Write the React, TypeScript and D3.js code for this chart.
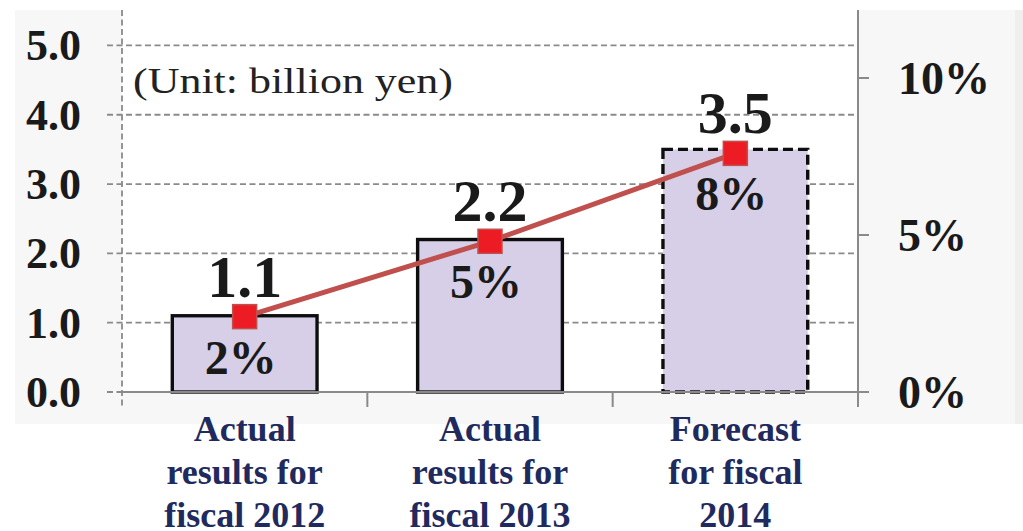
import React from "react";
import * as d3 from "d3";

// Net sales (billion yen) and ratio (%) per fiscal period
const categoryLines: string[][] = [
  ["Actual", "results for", "fiscal 2012"],
  ["Actual", "results for", "fiscal 2013"],
  ["Forecast", "for fiscal", "2014"],
];
const categoryKeys = ["fy2012", "fy2013", "fy2014"];
const salesValues = [1.1, 2.2, 3.5];
const ratioValues = [2.4, 4.8, 7.6];
const isForecast = [false, false, true];
const leftTicks = [0, 1, 2, 3, 4, 5];
const rightTicks = [0, 5, 10];
const unitLabel = "(Unit: billion yen)";

const W = 1023;
const H = 531;
const plot = { left: 122, right: 858, top: 10, bottom: 392 };

const SERIF = "'Liberation Serif', 'Times New Roman', serif";
const AXIS_GREY = "#8a8a8a";

export default function App() {
  const x = d3
    .scaleBand<string>()
    .domain(categoryKeys)
    .range([plot.left, plot.right])
    .padding(0);
  const barW = x.bandwidth() * 0.59;
  const cx = (i: number) => (x(categoryKeys[i]) as number) + x.bandwidth() / 2;

  const yL = d3.scaleLinear().domain([0, 5.5]).range([plot.bottom, 10.8]);
  const yR = d3
    .scaleLinear()
    .domain([0, 12])
    .range([plot.bottom, plot.bottom - 12 * 31.4]);

  const fmtVal = d3.format(".1f");
  const fmtPct = (v: number) => d3.format(".0f")(v) + "%";

  const linePath = d3
    .line<number>()
    .x((_, i) => cx(i))
    .y((d) => yR(d))(ratioValues) as string;

  const boundaries = categoryKeys.slice(1).map((k) => x(k) as number);

  return (
    <svg
      width={W}
      height={H}
      viewBox={`0 0 ${W} ${H}`}
      style={{ position: "absolute", left: 0, top: 0, background: "#ffffff" }}
    >
      <defs>
        <filter id="soft" x="-10%" y="-10%" width="120%" height="120%">
          <feGaussianBlur stdDeviation="0.7" />
        </filter>
      </defs>

      {/* chart panel */}
      <rect x={15} y={10} width={1000} height={414} fill="#f7f7f7" />
      <rect x={1015} y={10} width={8} height={414} fill="#efefef" />
      <rect
        x={plot.left}
        y={plot.top}
        width={plot.right - plot.left}
        height={plot.bottom - plot.top}
        fill="#ffffff"
      />

      {/* horizontal grid with left ticks */}
      {leftTicks.map((t) => (
        <line
          key={`g${t}`}
          x1={107}
          x2={plot.right}
          y1={yL(t)}
          y2={yL(t)}
          stroke={AXIS_GREY}
          strokeWidth={1.8}
          strokeDasharray="6 3.5"
        />
      ))}

      {/* left axis (dashed) */}
      <line
        x1={plot.left}
        x2={plot.left}
        y1={plot.top}
        y2={plot.bottom + 15}
        stroke={AXIS_GREY}
        strokeWidth={1.8}
        strokeDasharray="6 3.5"
      />

      {/* bars */}
      {salesValues.map((v, i) => (
        <rect
          key={`b${i}`}
          x={cx(i) - barW / 2}
          y={yL(v)}
          width={barW}
          height={yL(0) - yL(v)}
          fill="#d7cee7"
        />
      ))}
      {salesValues.map((v, i) => (
        <rect
          key={`bo${i}`}
          x={cx(i) - barW / 2}
          y={yL(v)}
          width={barW}
          height={yL(0) - yL(v)}
          fill="none"
          stroke="#111111"
          strokeWidth={3.4}
          strokeDasharray={isForecast[i] ? "10 5" : undefined}
          filter="url(#soft)"
        />
      ))}

      {/* x axis */}
      <line
        x1={plot.left}
        x2={plot.right + 11}
        y1={plot.bottom}
        y2={plot.bottom}
        stroke={AXIS_GREY}
        strokeWidth={2}
      />
      {boundaries.map((b, i) => (
        <line
          key={`xt${i}`}
          x1={b}
          x2={b}
          y1={plot.bottom}
          y2={plot.bottom + 15}
          stroke={AXIS_GREY}
          strokeWidth={2}
        />
      ))}

      {/* right axis */}
      <line
        x1={plot.right}
        x2={plot.right}
        y1={plot.top}
        y2={plot.bottom + 15}
        stroke={AXIS_GREY}
        strokeWidth={2}
      />
      {rightTicks.map((t) => (
        <line
          key={`rt${t}`}
          x1={plot.right}
          x2={plot.right + 11}
          y1={yR(t)}
          y2={yR(t)}
          stroke={AXIS_GREY}
          strokeWidth={2}
        />
      ))}

      {/* left tick labels */}
      {leftTicks.map((t) => (
        <text
          key={`lt${t}`}
          x={81}
          y={yL(t)}
          dy="0.34em"
          textAnchor="end"
          fontFamily={SERIF}
          fontWeight="bold"
          fontSize={44}
          fill="#1a1a1a"
        >
          {d3.format(".1f")(t)}
        </text>
      ))}

      {/* right tick labels */}
      {rightTicks.map((t) => (
        <text
          key={`rl${t}`}
          x={898}
          y={yR(t)}
          dy="0.34em"
          textAnchor="start"
          fontFamily={SERIF}
          fontWeight="bold"
          fontSize={46}
          fill="#1a1a1a"
        >
          {t}%
        </text>
      ))}

      {/* unit note */}
      <text
        x={133}
        y={93}
        fontFamily={SERIF}
        fontSize={36}
        fill="#222222"
        textLength={320}
        lengthAdjust="spacingAndGlyphs"
      >
        {unitLabel}
      </text>

      {/* ratio line */}
      <path d={linePath} fill="none" stroke="#c0504d" strokeWidth={5} />
      {ratioValues.map((r, i) => (
        <rect
          key={`m${i}`}
          x={cx(i) - 12}
          y={yR(r) - 12}
          width={24}
          height={24}
          fill="#ed1c24"
          stroke="#c0504d"
          strokeWidth={1.5}
        />
      ))}

      {/* value labels */}
      {salesValues.map((v, i) => (
        <text
          key={`vl${i}`}
          x={cx(i)}
          y={yR(ratioValues[i]) - 20}
          textAnchor="middle"
          fontFamily={SERIF}
          fontWeight="bold"
          fontSize={60}
          fill="#1a1a1a"
        >
          {fmtVal(v)}
        </text>
      ))}
      {ratioValues.map((r, i) => (
        <text
          key={`pl${i}`}
          x={cx(i) - 4}
          y={yR(r) + 57}
          textAnchor="middle"
          fontFamily={SERIF}
          fontWeight="bold"
          fontSize={48}
          fill="#1a1a1a"
        >
          {fmtPct(r)}
        </text>
      ))}

      {/* category labels */}
      {categoryLines.map((lines, i) => (
        <text
          key={`c${i}`}
          x={cx(i)}
          textAnchor="middle"
          fontFamily={SERIF}
          fontWeight="bold"
          fontSize={36}
          fill="#1f2a5e"
        >
          {lines.map((ln, j) => (
            <tspan key={j} x={cx(i)} y={441 + j * 43}>
              {ln}
            </tspan>
          ))}
        </text>
      ))}
    </svg>
  );
}
